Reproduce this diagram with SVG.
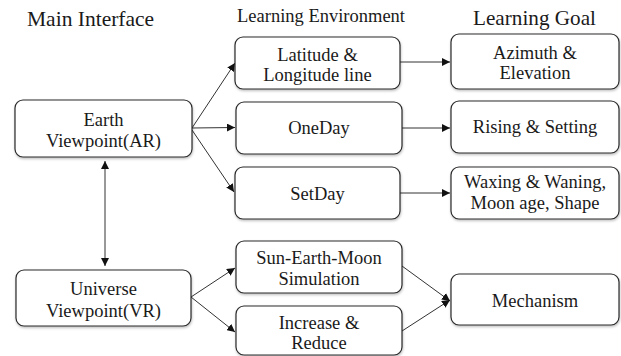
<svg xmlns="http://www.w3.org/2000/svg" width="621" height="356" viewBox="0 0 621 356">
<defs>
<style>
.box{fill:#fff;stroke:#2a2a2a;stroke-width:1.2;filter:url(#sh)}
.t{font-family:"Liberation Serif","Times New Roman",serif;font-size:18.5px;fill:#1a1a1a;text-anchor:middle}
.h{font-family:"Liberation Serif","Times New Roman",serif;fill:#1a1a1a}
.c{stroke:#333;stroke-width:1;fill:none;marker-end:url(#ah)}
</style>
<filter id="sh" x="-10%" y="-10%" width="125%" height="130%">
<feDropShadow dx="0.5" dy="1.5" stdDeviation="1" flood-color="#000" flood-opacity="0.25"/>
</filter>
<marker id="ah" viewBox="0 0 10 10" refX="10" refY="5" markerWidth="8" markerHeight="8" markerUnits="userSpaceOnUse" orient="auto-start-reverse">
<path d="M0,0 L10,5 L0,10 z" fill="#111"/>
</marker>
</defs>
<rect width="621" height="356" fill="#fff"/>
<g id="headers">
<text class="h" x="27" y="26" font-size="21.5">Main Interface</text>
<text class="h" x="237" y="22" font-size="18.5">Learning Environment</text>
<text class="h" x="473" y="25" font-size="21.2">Learning Goal</text>
</g>
<g id="connectors">
<line class="c" x1="192" y1="128" x2="235" y2="63"/>
<line class="c" x1="192" y1="128" x2="235" y2="127.5"/>
<line class="c" x1="192" y1="130" x2="234" y2="192"/>
<line class="c" x1="105" y1="266" x2="105" y2="161" marker-start="url(#ah)"/>
<line class="c" x1="400" y1="62" x2="450" y2="62"/>
<line class="c" x1="402" y1="128" x2="450" y2="128"/>
<line class="c" x1="400" y1="193" x2="450" y2="193"/>
<line class="c" x1="191" y1="297" x2="235" y2="268"/>
<line class="c" x1="191" y1="297" x2="235" y2="332"/>
<line class="c" x1="402" y1="266" x2="450" y2="301"/>
<line class="c" x1="402" y1="331" x2="450" y2="300"/>
</g>
<g id="earth">
<rect class="box" x="15" y="100" width="177" height="57" rx="8"/>
<text class="t" x="103.5" y="126">Earth</text>
<text class="t" x="103.5" y="147">Viewpoint(AR)</text>
</g>
<g id="universe">
<rect class="box" x="16" y="270" width="175" height="56" rx="8"/>
<text class="t" x="103.5" y="295">Universe</text>
<text class="t" x="103.5" y="317">Viewpoint(VR)</text>
</g>
<g id="latitude">
<rect class="box" x="235" y="37" width="165" height="52" rx="8"/>
<text class="t" x="317.5" y="61">Latitude &amp;</text>
<text class="t" x="317.5" y="81">Longitude line</text>
</g>
<g id="oneday">
<rect class="box" x="236" y="102" width="166" height="52" rx="8"/>
<text class="t" x="319" y="134">OneDay</text>
</g>
<g id="setday">
<rect class="box" x="235" y="167" width="165" height="52" rx="8"/>
<text class="t" x="317.5" y="200">SetDay</text>
</g>
<g id="simulation">
<rect class="box" x="236" y="241" width="166" height="52" rx="8"/>
<text class="t" x="319" y="264">Sun-Earth-Moon</text>
<text class="t" x="319" y="285">Simulation</text>
</g>
<g id="increase">
<rect class="box" x="236" y="306" width="166" height="49" rx="8"/>
<text class="t" x="319" y="329">Increase &amp;</text>
<text class="t" x="319" y="349">Reduce</text>
</g>
<g id="azimuth">
<rect class="box" x="451" y="34" width="168" height="55" rx="8"/>
<text class="t" x="535" y="59">Azimuth &amp;</text>
<text class="t" x="535" y="79">Elevation</text>
</g>
<g id="rising">
<rect class="box" x="451" y="101" width="168" height="52" rx="8"/>
<text class="t" x="535" y="133">Rising &amp; Setting</text>
</g>
<g id="waxing">
<rect class="box" x="451" y="167" width="168" height="52" rx="8"/>
<text class="t" x="535" y="188">Waxing &amp; Waning,</text>
<text class="t" x="535" y="209">Moon age, Shape</text>
</g>
<g id="mechanism">
<rect class="box" x="451" y="274" width="168" height="51" rx="8"/>
<text class="t" x="535" y="307">Mechanism</text>
</g>
</svg>
